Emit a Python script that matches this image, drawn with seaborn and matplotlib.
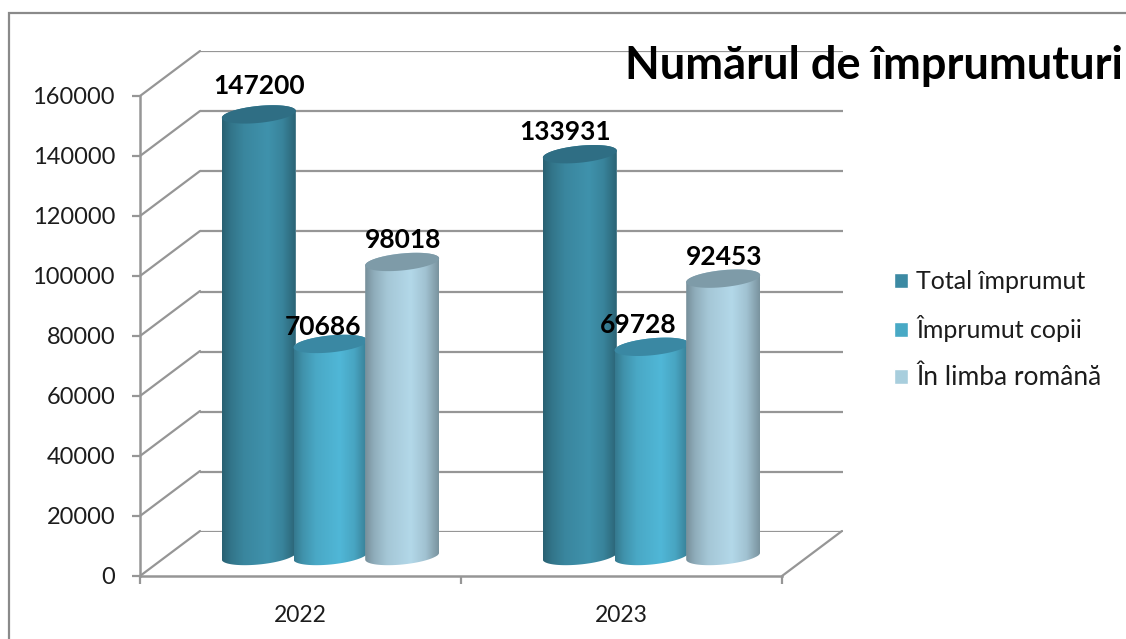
import numpy as np
import pandas as pd
import matplotlib
matplotlib.use("Agg")
import matplotlib.pyplot as plt
from matplotlib.path import Path
from matplotlib.patches import Rectangle
from matplotlib.ticker import FixedLocator, NullFormatter
import seaborn as sns

years = ["2022", "2023"]
series_names = ["Total împrumut", "Împrumut copii", "În limba română"]
total_loans = [147200, 133931]
child_loans = [70686, 69728]
romanian_loans = [98018, 92453]
y_ticks = [0, 20000, 40000, 60000, 80000, 100000, 120000, 140000, 160000]
title = "Numărul de împrumuturi"

bar_colors = ["#3F92AC", "#50B7D7", "#B3D8E9"]
swatch_colors = ["#3C8AA3", "#48A9C5", "#A8CEDD"]
top_colors = ["#2F6E84", "#3A88A3", "#7E9BA8"]
# nudges of the value labels from the bar top centre, pixels
label_nudges = {
    (0, 0): (0, 28), (0, 1): (-15, 22),
    (1, 0): (-8, 17), (1, 1): (-13, 22),
    (2, 0): (1, 22), (2, 1): (1, 22),
}

W, H = 1126, 639
GRID = "#969696"
TEXT = "#1c1c1c"
FONT = ["Lato", "DejaVu Sans"]


def place(ax_left, ax_top, ax_right, ax_bottom):
    """Axes from pixel edges measured from the top left of the figure."""
    return [ax_left / W, 1 - ax_bottom / H, (ax_right - ax_left) / W, (ax_bottom - ax_top) / H]


sns.set_theme(style="white")
plt.rcParams["font.family"] = FONT

df = pd.DataFrame({
    "year": years * 3,
    "series": np.repeat(series_names, 2),
    "value": total_loans + child_loans + romanian_loans,
})

fig = plt.figure(figsize=(W / 100, H / 100), dpi=100, facecolor="white")

# outer chart frame, only top and left edges are inside the picture
fig.add_artist(Rectangle((9 / W, -0.1), 1.2, 1.1 - 13 / H, transform=fig.transFigure,
                         fill=False, edgecolor="#8a8a8a", linewidth=1.6))

# back wall with the gridlines
ax_back = fig.add_axes(place(200, 51, 843, 532), facecolor="none")
ax_back.set_ylim(0, 160000)
ax_back.set_xlim(0, 1)
ax_back.set_yticks(y_ticks)
ax_back.set_xticks([])
ax_back.tick_params(left=False, labelleft=False)
ax_back.grid(axis="y", color=GRID, linewidth=1.6)
sns.despine(ax=ax_back, left=True, bottom=True)

# front plane with the axes
ax_front = fig.add_axes(place(140, 96, 782, 576), facecolor="none")
ax_front.set_xlim(-0.5, 1.5)
ax_front.set_ylim(0, 160000)
ax_front.set_yticks(y_ticks)
ax_front.set_yticklabels([str(v) for v in y_ticks], fontsize=17, color=TEXT,
                         va="center_baseline")
ax_front.set_xticks([0, 1])
ax_front.set_xticklabels(years, fontsize=16.5, color=TEXT)
ax_front.xaxis.set_minor_locator(FixedLocator([-0.5, 0.5, 1.5]))
ax_front.xaxis.set_minor_formatter(NullFormatter())
ax_front.tick_params(axis="y", left=True, length=6, width=1.6, color=GRID, pad=12)
ax_front.tick_params(axis="x", which="major", bottom=False, pad=15)
ax_front.tick_params(axis="x", which="minor", bottom=True, length=6, width=1.6, color=GRID)
sns.despine(ax=ax_front)
for side in ["left", "bottom"]:
    ax_front.spines[side].set_color(GRID)
    ax_front.spines[side].set_linewidth(1.8)

# side wall and floor diagonals join the front plane to the back wall
depth_x = 60 / 321
depth_y = 45 * 160000 / 480
for v in y_ticks:
    ax_front.plot([-0.5, -0.5 + depth_x], [v, v + depth_y], color=GRID, lw=1.6, clip_on=False)
ax_front.plot([1.5, 1.5 + depth_x], [0, depth_y], color=GRID, lw=1.6, clip_on=False)

# bars sit half way between the two planes
UNITS = 160000 / 480
ax = fig.add_axes(place(170, 76, 812, 576), facecolor="none")
sns.barplot(data=df, x="year", y="value", hue="series", order=years, hue_order=series_names,
            palette=swatch_colors, width=0.67, gap=0, saturation=1, errorbar=None, ax=ax)

shade_x = [0.0, 0.12, 0.3, 0.62, 0.82, 1.0]
shade_v = [0.66, 0.8, 0.92, 1.0, 0.9, 0.68]
shade = np.interp(np.linspace(0, 1, 200), shade_x, shade_v)


def ellipse(cx, cy, half_w, start, stop):
    t = np.linspace(start, stop, 60)
    return np.column_stack([
        cx + half_w * np.cos(t),
        cy + 8.5 * UNITS * np.sin(t) + 3.5 * UNITS * np.cos(t),
    ])


for i, container in enumerate(ax.containers):
    base = np.array(matplotlib.colors.to_rgb(bar_colors[i]))
    img = (shade[None, :, None] * base[None, None, :]).clip(0, 1)
    for j, bar in enumerate(container):
        cx = bar.get_x() + bar.get_width() / 2
        half_w = bar.get_width() / 2 * 1.032
        top = bar.get_height()
        z = 5 + i * 2
        outline = np.vstack([ellipse(cx, top, half_w, 0, np.pi),
                             ellipse(cx, 0, half_w, np.pi, 2 * np.pi)])
        clip = Path(np.vstack([outline, outline[0]]), closed=True)
        bar.set_zorder(z - 1)
        bar.set_clip_path(clip, ax.transData)
        im = ax.imshow(img, extent=[cx - half_w, cx + half_w, -20 * UNITS, top + 15 * UNITS],
                       aspect="auto", zorder=z, interpolation="bilinear")
        im.set_clip_path(clip, ax.transData)
        lid = ellipse(cx, top, half_w, 0, 2 * np.pi)
        ax.fill(lid[:, 0], lid[:, 1], color=top_colors[i], lw=0, zorder=z + 0.5)
        nudge = label_nudges[(i, j)]
        ax.annotate(str(int(top)), (cx, top), xytext=(nudge[0] * 0.72, nudge[1] * 0.72),
                    textcoords="offset points", ha="center", va="center", fontsize=19,
                    fontweight="bold", color="black", zorder=30)

ax.set_xlim(-0.5, 1.5)
ax.set_ylim(-20 * UNITS, 160000)
ax.set_axis_off()

sns.move_legend(ax, "center left", bbox_to_anchor=(871.5 / W, 1 - 330 / H),
                bbox_transform=fig.transFigure, title=None, frameon=False, fontsize=18,
                handlelength=0.56, handleheight=0.56, handletextpad=0.32, labelspacing=0.9)
for txt in ax.get_legend().get_texts():
    txt.set_color(TEXT)
ax.get_legend().get_texts()[2].set_fontsize(19)

fig.text(625 / W, 1 - 66 / H, title, ha="left", va="center", fontsize=32.5,
         fontweight="bold", color="black", zorder=40)

fig.savefig("out.png", dpi=100)
